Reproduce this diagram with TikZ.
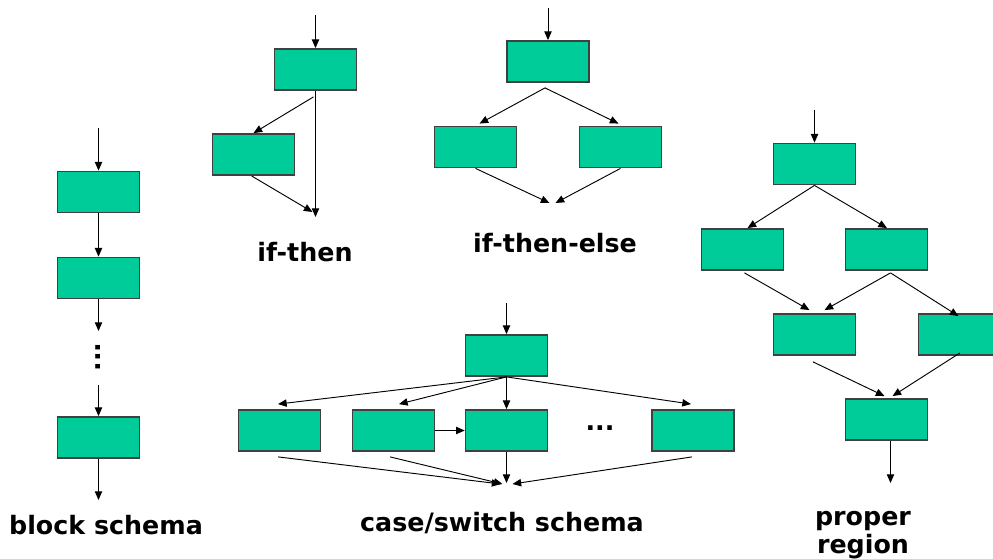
\documentclass[tikz,border=0pt]{standalone}
\usepackage{fontspec}
\setmainfont{DejaVu Sans}
\usetikzlibrary{positioning}
\usetikzlibrary{calc}
\usetikzlibrary{arrows.meta}

\definecolor{boxgreen}{HTML}{00CC99}

\begin{document}
\begin{tikzpicture}[x=0.75pt,y=-0.75pt,
    block/.style={draw=black!75,line width=1.1pt,fill=boxgreen,
      minimum width=61.5pt,minimum height=31pt,inner sep=0pt},
    flow/.style={-{Triangle[length=6.5pt,width=5.5pt]},line width=0.7pt},
    schemaname/.style={font=\fontsize{19}{21}\selectfont\bfseries,align=center}]
    \useasboundingbox (0,0) rectangle (993,559);

    % block schema
    \node[block] (b1) at (98.5,192) {};
    \node[block] (b2) at (98.5,278) {};
    \node[block] (b3) at (98.5,437.5) {};
    \node[font=\fontsize{19}{22}\selectfont\bfseries,rotate=90] (bdots) at (98.5,357) {...};
    \coordinate (bin) at (98.5,128);
    \coordinate (bgap) at (98.5,331);
    \coordinate (bresume) at (98.5,385);
    \coordinate (bout) at (98.5,500);
    \draw[flow] (bin) -- (b1);
    \draw[flow] (b1) -- (b2);
    \draw[flow] (b2) -- (bgap);
    \draw[flow] (bresume) -- (b3);
    \draw[flow] (b3) -- (bout);
    \node[schemaname] (bname) at (106,525) {block schema};

    % if-then
    \node[block] (i1) at (315.5,69.5) {};
    \node[block] (i2) at (253.5,154.5) {};
    \coordinate (iin) at (315.5,15);
    \coordinate (iout) at (315.5,217);
    \draw[flow] (iin) -- (i1);
    \draw[flow] ($(i1.south)+(-2,6)$) -- (i2.north);
    \draw[flow] (i1.south) -- (iout);
    \draw[flow] ($(i2.south)+(-2,0)$) -- ($(iout)+(-3,-5)$);
    \node[schemaname] (iname) at (305,252) {if-then};

    % if-then-else
    \node[block] (e1) at (548,61.5) {};
    \node[block] (e2) at (475.5,147) {};
    \node[block] (e3) at (620.5,147) {};
    \coordinate (ein) at (548,8);
    \coordinate (eout) at (552.5,203);
    \draw[flow] (ein) -- (e1);
    \draw[flow] ($(e1.south)+(-3,5)$) -- ($(e2.north)+(4,-2)$);
    \draw[flow] ($(e1.south)+(-3,5)$) -- ($(e3.north)+(-2,-2)$);
    \draw[flow] (e2.south) -- ($(eout)+(-3,0)$);
    \draw[flow] (e3.south) -- ($(eout)+(3,0)$);
    \node[schemaname] (ename) at (555,243) {if-then-else};

    % case/switch schema
    \node[block] (c0) at (506.5,355.5) {};
    \node[block] (c1) at (279.5,430.5) {};
    \node[block] (c2) at (393.5,430.5) {};
    \node[block] (c3) at (506.5,430.5) {};
    \node[block] (c4) at (693,430.5) {};
    \node[font=\fontsize{19}{22}\selectfont\bfseries] (cdots) at (600,428) {...};
    \coordinate (cin) at (506.5,303);
    \coordinate (cout) at (506.5,484);
    \draw[flow] (cin) -- (c0);
    \draw[flow] (c0.south) -- ($(c1.north)+(-1.5,-5)$);
    \draw[flow] (c0.south) -- ($(c2.north)+(5.5,-5)$);
    \draw[flow] (c0.south) -- (c3.north);
    \draw[flow] (c0.south) -- ($(c4.north)+(-2,-5)$);
    \draw[flow] (c2.east) -- (c3.west);
    \draw[flow] ($(c1.south)+(-1.5,5)$) -- ($(cout)+(-6,0)$);
    \draw[flow] ($(c2.south)+(-3.5,5)$) -- ($(cout)+(-4,0)$);
    \draw[flow] (c3.south) -- ($(cout)+(0,-1)$);
    \draw[flow] ($(c4.south)+(-1,5)$) -- ($(cout)+(6,0)$);
    \node[schemaname] (cname) at (502,523) {case/switch schema};

    % proper region
    \node[block] (p1) at (814.5,164) {};
    \node[block] (p2) at (742.5,249.5) {};
    \node[block] (p3) at (886.5,249.5) {};
    \node[block] (p4) at (814.5,334.5) {};
    \node[block] (p5) at (959.5,334.5) {};
    \node[block] (p6) at (886.5,419.5) {};
    \coordinate (pin) at (814.5,110);
    \coordinate (pout) at (886.5,483);
    \draw[flow] (pin) -- (p1);
    \draw[flow] (p1.south) -- ($(p2.north)+(5,0)$);
    \draw[flow] (p1.south) -- ($(p3.north)+(0.5,0)$);
    \draw[flow] ($(p2.south)+(2,2)$) -- ($(p4.north)+(-5,-3)$);
    \draw[flow] ($(p3.south)+(4,2)$) -- ($(p4.north)+(10,-3)$);
    \draw[flow] ($(p3.south)+(4,2)$) -- ($(p5.north)+(-1,3)$);
    \draw[flow] ($(p4.south)+(-1.5,6)$) -- ($(p6.north)+(-2,-2)$);
    \draw[flow] ($(p5.south)+(0.5,-3)$) -- ($(p6.north)+(6,-2)$);
    \draw[flow] ($(p6.south)+(4,0)$) -- ($(pout)+(4,0)$);
    \node[schemaname] (pname) at (863,535) {proper\\region};
\end{tikzpicture}
\end{document}
